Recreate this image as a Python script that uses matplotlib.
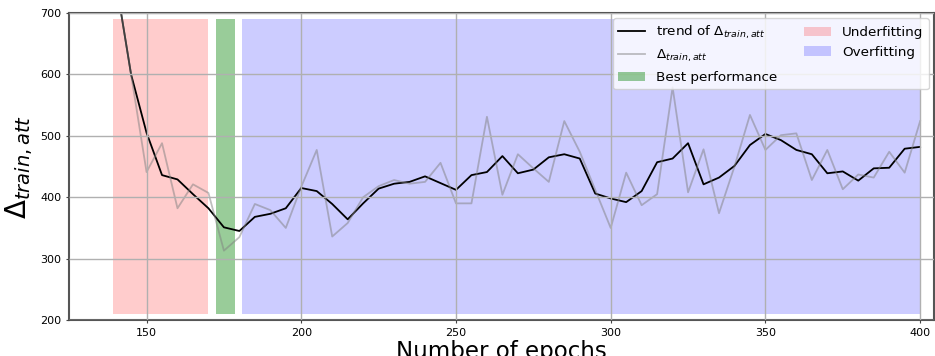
import numpy as np
import matplotlib.pyplot as plt

epochs = list(range(140, 401, 5))

# raw Delta_train,att per epoch
delta = [755, 600, 441, 488, 382, 421, 407, 313, 335, 389, 379, 350,
         417, 477, 336, 358, 400, 418, 428, 422, 425, 456, 390, 390,
         531, 404, 470, 447, 425, 524, 474, 412, 350, 440, 387, 405,
         579, 408, 478, 374, 450, 534, 477, 501, 504, 428, 477, 413,
         437, 432, 474, 440, 524]

# smoothed trend
trend = [755, 600, 505, 436, 429, 405, 382, 351, 345, 368, 373, 382,
         415, 410, 389, 364, 390, 414, 422, 425, 434, 423, 412, 436,
         441, 467, 439, 445, 465, 470, 463, 406, 398, 392, 410, 457,
         463, 488, 421, 432, 451, 485, 503, 493, 477, 470, 439, 442,
         427, 447, 448, 479, 482]

under_range = (139, 170)
best_range = (172.5, 178.5)
over_range = (181, 400)

fig = plt.figure(figsize=(9.35, 3.56), dpi=100)
ax = fig.add_axes([0.074, 0.101, 0.925, 0.8625])

ax.axvspan(*under_range, ymin=0.02, ymax=0.98, color='red', alpha=0.2, lw=0, label='Underfitting')
ax.axvspan(*best_range, ymin=0.02, ymax=0.98, color='green', alpha=0.4, lw=0, label='Best performance')
ax.axvspan(*over_range, ymin=0.02, ymax=0.98, color='blue', alpha=0.2, lw=0, label='Overfitting')

ax.plot(epochs, trend, color='black', lw=1.3, label=r'trend of $\Delta_{train, att}$')
ax.plot(epochs, delta, color='gray', lw=1.3, alpha=0.5, label=r'$\Delta_{train, att}$')

ax.set_xlim(125, 404.5)
ax.set_ylim(200, 700)
ax.set_xticks([150, 200, 250, 300, 350, 400])
ax.set_yticks([200, 300, 400, 500, 600, 700])
ax.tick_params(labelsize=8, length=2, color='#444444')
ax.grid(True, color='#b0b0b0', lw=1)
ax.set_axisbelow(False)
for s in ax.spines.values():
    s.set_color('#555555')
    s.set_linewidth(1.5)

ax.set_xlabel('Number of epochs', fontsize=16.5, labelpad=2)
ax.set_ylabel(r'$\Delta_{train, att}$', fontsize=20, labelpad=4)

h, l = ax.get_legend_handles_labels()
order = [3, 4, 1, 0, 2]
ax.legend([h[i] for i in order], [l[i] for i in order], ncol=2, loc='upper right',
          fontsize=9.7, framealpha=0.8, borderaxespad=0.4)

fig.savefig('out.png', dpi=100)
